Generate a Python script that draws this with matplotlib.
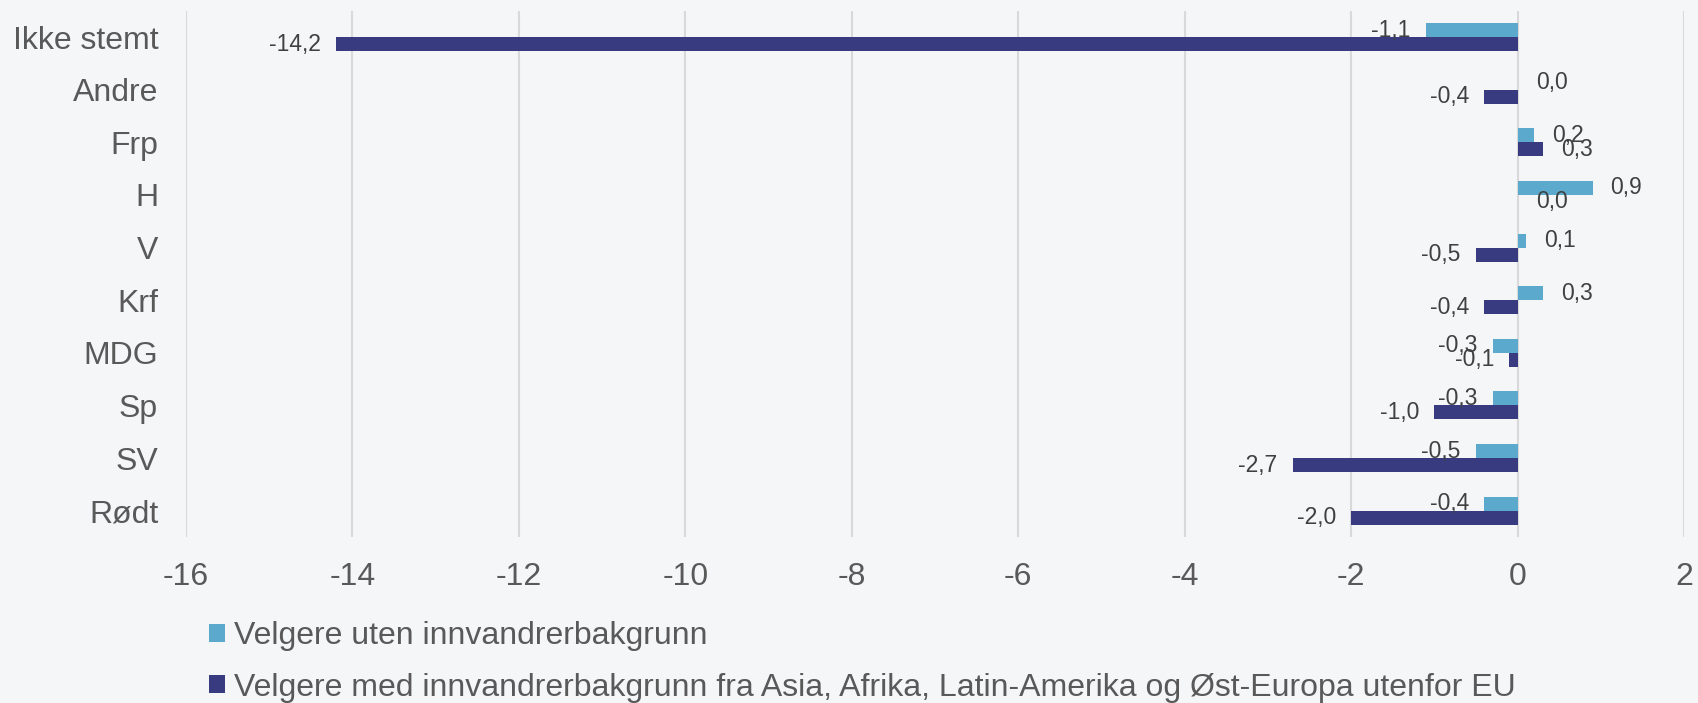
import numpy as np
import matplotlib
matplotlib.use("Agg")
import matplotlib.pyplot as plt

plt.rcParams["font.family"] = ["Liberation Sans", "DejaVu Sans"]

# data (change in percentage points)
parties = ["Ikke stemt", "Andre", "Frp", "H", "V", "Krf", "MDG", "Sp", "SV", "Rødt"]
uten_bakgrunn = [-1.1, 0.0, 0.2, 0.9, 0.1, 0.3, -0.3, -0.3, -0.5, -0.4]
med_bakgrunn = [-14.2, -0.4, 0.3, 0.0, -0.5, -0.4, -0.1, -1.0, -2.7, -2.0]
series_labels = [
    "Velgere uten innvandrerbakgrunn",
    "Velgere med innvandrerbakgrunn fra Asia, Afrika, Latin-Amerika og Øst-Europa utenfor EU",
]
xticks = [-16, -14, -12, -10, -8, -6, -4, -2, 0, 2]

LIGHT = "#5BA9CC"
DARK = "#383B80"
BG = "#F5F6F8"
GRID = "#D9D9D9"
TEXT = "#595959"
LABEL = "#404040"

fig = plt.figure(figsize=(16.98, 7.03), dpi=100, facecolor=BG)
ax = fig.add_axes([0.1095, 0.2361, 0.8823, 0.7487], facecolor=BG)

y = np.arange(len(parties))
h = 0.266
b1 = ax.barh(y - h / 2, uten_bakgrunn, height=h, color=LIGHT, label=series_labels[0], zorder=3)
b2 = ax.barh(y + h / 2, med_bakgrunn, height=h, color=DARK, label=series_labels[1], zorder=3)


def label_bars(bars, values):
    for bar, v in zip(bars, values):
        yc = bar.get_y() + bar.get_height() / 2
        txt = f"{v:.1f}".replace(".", ",")
        if v < 0:
            ax.annotate(txt, (v, yc), xytext=(-11, 0), textcoords="offset points",
                        ha="right", va="center", fontsize=16.5, color=LABEL, zorder=4)
        else:
            ax.annotate(txt, (v, yc), xytext=(13, 0), textcoords="offset points",
                        ha="left", va="center", fontsize=16.5, color=LABEL, zorder=4)


label_bars(b1, uten_bakgrunn)
label_bars(b2, med_bakgrunn)

ax.set_xlim(-16, 2)
ax.set_ylim(len(parties) - 0.5, -0.5)
ax.set_xticks(xticks)
ax.set_xticklabels([str(t) for t in xticks])
ax.set_yticks(y)
ax.set_yticklabels(parties)
ax.tick_params(axis="x", length=0, pad=18, labelsize=23, labelcolor=TEXT)
ax.tick_params(axis="y", length=0, pad=20, labelsize=23, labelcolor=TEXT)
ax.grid(axis="x", color=GRID, linewidth=1.5, zorder=0)
for s in ax.spines.values():
    s.set_visible(False)

fig.legend(handles=[b1, b2], labels=series_labels, loc="upper left",
           bbox_to_anchor=(0.1231, 0.116), bbox_transform=fig.transFigure,
           frameon=False, fontsize=23, handlelength=0.5, handleheight=0.5,
           handletextpad=0.28, labelspacing=0.66, borderpad=0, borderaxespad=0,
           labelcolor=TEXT)

fig.savefig("out.png", dpi=100, facecolor=BG)
